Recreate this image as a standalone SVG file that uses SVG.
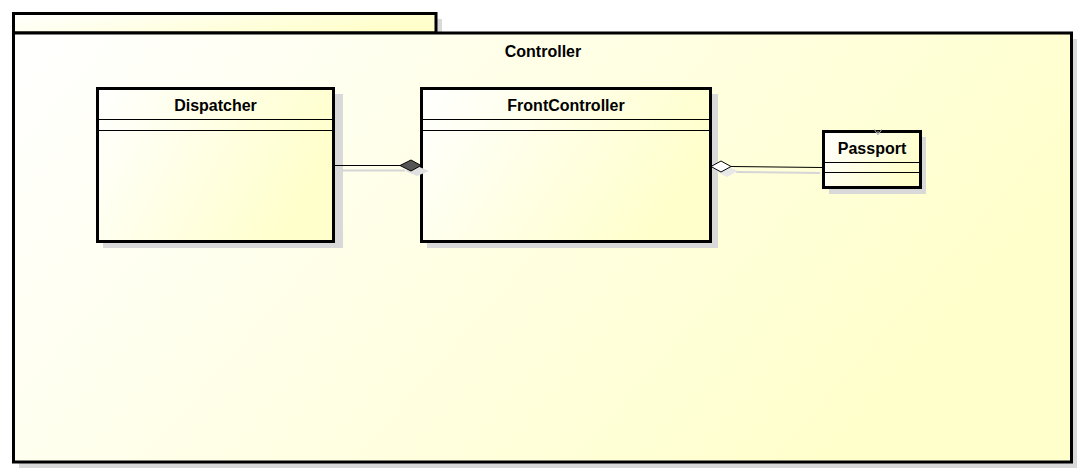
<svg xmlns="http://www.w3.org/2000/svg" width="1085" height="474" viewBox="0 0 1085 474">
<defs>
<linearGradient id="g" x1="0" y1="0" x2="1" y2="0.35">
<stop offset="0" stop-color="#ffffff"/>
<stop offset="1" stop-color="#ffffcc"/>
</linearGradient>
<style>
.sh{fill:#d9d9d9;stroke:none}
.box{fill:url(#g);stroke:#000;stroke-width:3}
.sep{stroke:#000;stroke-width:1;fill:none}
.t{font-family:"Liberation Sans",Arial,sans-serif;font-weight:bold;font-size:16px;fill:#000;text-anchor:middle}
.ln{stroke:#000;stroke-width:1;fill:none}
.lns{stroke:#d6d6d6;stroke-width:2;fill:none}
</style>
</defs>
<rect width="1085" height="474" fill="#fff"/>
<g id="package-controller">
<rect class="sh" x="19" y="19" width="423" height="20"/>
<rect class="sh" x="19" y="39" width="1058" height="429"/>
<rect class="box" x="13.5" y="13.5" width="422.5" height="19.5"/>
<rect class="box" x="13.5" y="33" width="1058" height="429"/>
<text class="t" x="543" y="57">Controller</text>
</g>
<g id="dispatcher">
<rect class="sh" x="103" y="94" width="240" height="154"/>
<rect class="box" x="97.5" y="88.5" width="236" height="153"/>
<line class="sep" x1="97.5" y1="119.5" x2="333.5" y2="119.5"/>
<line class="sep" x1="97.5" y1="130.5" x2="333.5" y2="130.5"/>
<text class="t" x="215.5" y="111">Dispatcher</text>
</g>
<g id="frontcontroller">
<rect class="sh" x="427" y="94" width="291" height="154"/>
<rect class="box" x="421.5" y="88.5" width="289" height="153"/>
<line class="sep" x1="421.5" y1="119.5" x2="710.5" y2="119.5"/>
<line class="sep" x1="421.5" y1="130.5" x2="710.5" y2="130.5"/>
<text class="t" x="566" y="111">FrontController</text>
</g>
<g id="passport">
<rect class="sh" x="829" y="137" width="97" height="57"/>
<rect class="box" x="823.5" y="131.5" width="97" height="56"/>
<line class="sep" x1="823.5" y1="162.5" x2="920.5" y2="162.5"/>
<line class="sep" x1="823.5" y1="172.5" x2="920.5" y2="172.5"/>
<text class="t" x="872" y="154">Passport</text>
</g>
<g id="connectors">
<line class="lns" x1="342" y1="170.5" x2="405" y2="170.5"/>
<path d="M405 171 L417 166 L429 171 L417 176 Z" fill="#e0e0e0"/>
<line class="ln" x1="335" y1="165.5" x2="400" y2="165.5"/>
<path d="M400 165.5 L411 160 L421 165.5 L411 171 Z" fill="#555" stroke="#000" stroke-width="1"/>
<line class="lns" x1="736" y1="172" x2="820" y2="173"/>
<path d="M716 171 L727 166 L738 171 L727 177 Z" fill="#e8e8e8"/>
<line class="ln" x1="731" y1="166.5" x2="822" y2="167.5"/>
<path d="M711 166.5 L721 161 L731 166.5 L721 172 Z" fill="#fff" stroke="#000" stroke-width="1"/>
<path d="M874 129 L878 135 L882 129 M878 135 L878 131" stroke="#bbb" stroke-width="1" fill="none"/>
</g>
</svg>
